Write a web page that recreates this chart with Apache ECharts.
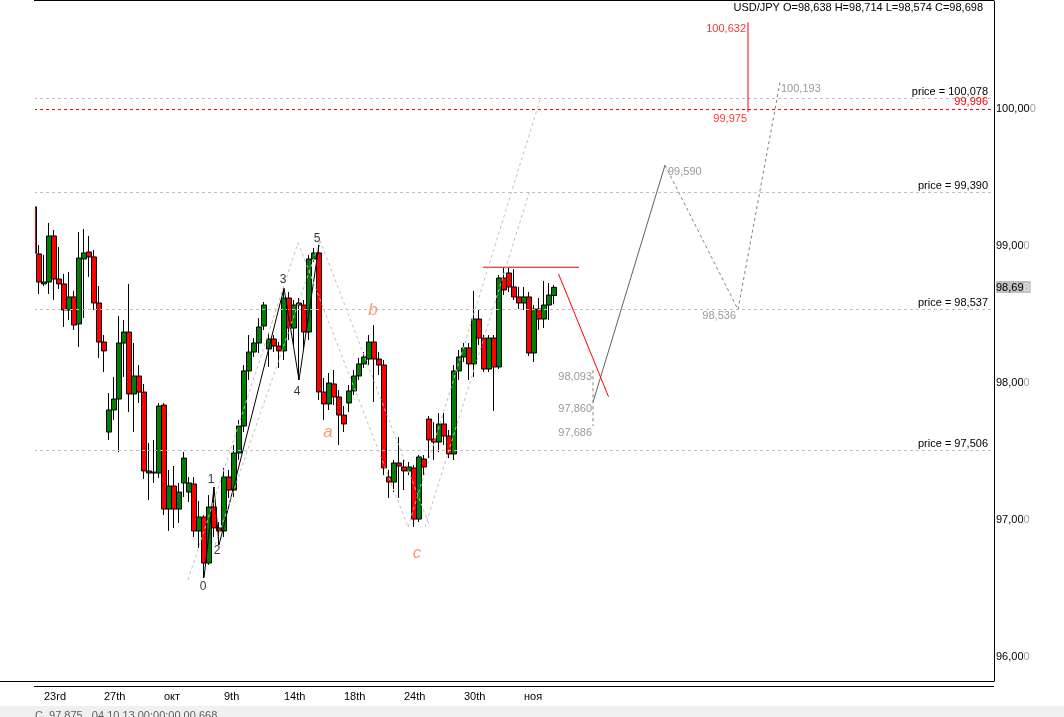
<!DOCTYPE html>
<html><head><meta charset="utf-8">
<script src="https://cdn.jsdelivr.net/npm/echarts@6/dist/echarts.min.js"></script>
<style>html,body{margin:0;padding:0;background:#fff;}#c{width:1064px;height:717px;}</style>
</head><body><div id="c"></div>
<script>
// ---- data ----
const xTickLabels = ['23rd','27th','окт','9th','14th','18th','24th','30th','ноя'];
const opens = [
99.285,98.942,98.723,98.737,99.073,98.759,98.723,98.533,98.628,98.431,
98.905,98.956,98.920,98.584,98.299,97.642,97.803,97.883,98.292,98.372,
97.920,98.051,97.934,97.343,97.350,97.343,97.839,97.080,97.248,97.080,
97.270,97.204,97.263,96.920,97.022,96.686,97.095,96.942,96.920,97.314,
97.219,97.489,97.686,98.088,98.226,98.292,98.416,98.248,98.321,98.270,
98.234,98.620,98.401,98.584,98.569,98.372,98.905,98.949,97.934,97.847,
97.993,97.898,97.766,97.854,97.942,98.051,98.139,98.175,98.299,98.175,
98.131,97.314,97.277,97.416,97.387,97.358,97.380,97.007,97.445,97.737,
97.591,97.569,97.701,97.613,97.482,98.088,98.190,98.256,98.139,98.467,
98.328,98.102,98.328,98.117,98.766,98.803,98.701,98.628,98.584,98.628,
98.219,98.540,98.467,98.569,98.638];
const closes = [
98.949,98.737,98.737,99.073,98.759,98.723,98.533,98.628,98.423,98.912,
98.949,98.920,98.584,98.299,98.234,97.803,97.883,98.292,98.372,97.920,
98.051,97.934,97.358,97.358,97.343,97.832,97.080,97.248,97.080,97.204,
97.452,97.270,96.920,97.022,96.686,97.095,96.942,96.920,97.314,97.219,
97.489,97.686,98.088,98.226,98.292,98.409,98.569,98.321,98.270,98.234,
98.620,98.401,98.569,98.569,98.372,98.905,98.949,97.934,97.847,98.000,
97.898,97.766,97.701,97.942,98.051,98.139,98.190,98.299,98.175,98.131,
97.380,97.277,97.416,97.394,97.358,97.387,97.007,97.460,97.387,97.584,
97.569,97.701,97.613,97.482,98.088,98.190,98.256,98.139,98.467,98.328,
98.102,98.328,98.117,98.766,98.679,98.701,98.628,98.584,98.628,98.219,
98.540,98.467,98.569,98.642,98.698];
const lows = [
98.854,98.650,98.708,98.650,98.606,98.686,98.409,98.460,98.387,98.263,
98.474,98.774,98.533,98.183,98.080,97.584,97.730,97.496,98.044,97.788,
97.642,97.854,97.299,97.146,97.270,97.307,97.036,96.920,96.942,96.978,
97.168,97.131,96.876,96.796,96.577,96.672,96.876,96.818,96.876,97.161,
97.168,97.438,97.642,98.022,98.190,98.219,98.387,98.117,98.226,98.110,
98.168,98.314,98.277,98.022,98.241,98.314,98.883,97.876,97.730,97.803,
97.839,97.547,97.642,97.788,97.912,98.022,98.110,98.131,97.861,98.058,
97.328,97.161,97.204,97.161,97.219,97.328,96.949,96.985,97.328,97.452,
97.438,97.496,97.547,97.452,97.438,98.022,98.153,98.022,98.044,98.277,
98.080,98.080,97.796,98.102,98.642,98.664,98.606,98.540,98.533,98.197,
98.153,98.387,98.401,98.460,98.574];
const highs = [
99.290,99.007,98.934,99.168,99.117,98.993,98.796,98.810,98.672,99.102,
99.124,99.073,98.971,98.708,98.350,97.927,98.044,98.489,98.460,98.723,
98.292,98.131,97.993,97.562,97.584,97.854,97.854,97.365,97.394,97.270,
97.496,97.314,97.314,97.139,97.036,97.182,97.241,96.985,97.380,97.365,
97.547,97.730,98.131,98.350,98.328,98.474,98.591,98.365,98.350,98.299,
98.693,98.664,98.606,98.620,98.606,98.934,98.985,99.007,98.037,98.073,
98.095,97.949,97.832,97.985,98.095,98.183,98.226,98.350,98.423,98.226,
98.168,97.365,97.438,97.606,97.438,97.423,97.401,97.474,97.474,97.759,
97.715,97.781,97.781,97.657,98.131,98.241,98.292,98.292,98.672,98.533,
98.350,98.350,98.350,98.788,98.839,98.839,98.832,98.701,98.701,98.664,
98.569,98.620,98.745,98.730,98.714];
const priceLevels = [100.078, 99.390, 98.537, 97.506];
const redLevel = 99.996;
const yTicks = [96, 97, 98, 99, 100];
// wave pivots (bar index) : 0,1,2,3,4,5
const waveBars = [34, 36, 37, 50, 53, 57];
const waveKinds = ['L','H','L','H','L','H'];
// projection points [bar position, price]
const projSolid = [[111.8, 97.860], [126.2, 99.590]];
const projDashed = [[126.2, 99.590], [140.8, 98.536], [149.2, 100.193]];
const projVertical = [[111.8, 98.093], [111.8, 97.686]];
const redVertical = [[142.8, 100.632], [142.8, 99.975]];
const redTop = [[89.8, 98.845], [109, 98.845]];
const redDiag = [[104.9, 98.796], [114.9, 97.900]];
const fanLines = [
  [[30.8, 96.562], [52.8, 99.025]],
  [[36.2, 96.818], [57.2, 99.040]],
  [[52.8, 99.025], [74.8, 96.949]],
  [[57.2, 99.040], [79.2, 96.949]],
  [[74.8, 96.949], [101.2, 100.066]],
  [[78.2, 96.949], [99.2, 99.409]]
];
const waveText = [['0',33.8,96.511],['1',35.4,97.292],['2',36.6,96.774],['3',49.8,98.752],['4',52.6,97.934],['5',56.6,99.051]];
const abcText = [['a',58.8,97.642],['b',67.8,98.533],['c',76.6,96.759]];
const lastBar = {o:98.638,h:98.714,l:98.574,c:98.698};

// ---- build ----
const N = 193;
const fmt = (v, d) => v.toFixed(d).replace('.', ',');
const cats = Array.from({length: N}, (_, i) => {
  const k = (i - 2) / 12;
  return (Number.isInteger(k) && k >= 0 && k < xTickLabels.length) ? xTickLabels[k] : '';
});
const candles = opens.map((o, i) => [o, closes[i], lows[i], highs[i]]);
const wavePts = waveBars.map((b, j) => [b, waveKinds[j] === 'L' ? lows[b] : highs[b]]);
const FONT = 'Liberation Sans';
const yMin = 95.825, yMax = 100.788;

function lineSeries(data, color, type, width) {
  return {type: 'line', xAxisIndex: 1, yAxisIndex: 0, data: data, symbol: 'none', silent: true,
    lineStyle: {color: color, width: width || 1, type: type || 'solid'}, animation: false, z: 5};
}

const annot = [];
waveText.forEach(t => annot.push({value:[t[1], t[2]], label:{show:true, formatter:t[0], color:'#000', fontFamily:FONT, fontSize:12, position:'inside'}}));
abcText.forEach(t => annot.push({value:[t[1], t[2]], label:{show:true, formatter:t[0], color:'#ff7f50', fontFamily:FONT, fontSize:17, fontStyle:'italic', position:'inside'}}));
const lab = (val, x, color, align, dx) => ({value:[x, val], label:{show:true, formatter: fmt(val, 3), color: color,
  fontFamily: FONT, fontSize: 11, position: 'inside', align: align, verticalAlign: 'top', offset:[dx, 1]}});
annot.push(lab(99.590, 126.2, '#808080', 'left', 3));
annot.push(lab(98.536, 140.8, '#808080', 'right', -2));
annot.push(lab(100.193, 149.2, '#808080', 'left', 1));
annot.push(lab(98.093, 111.8, '#808080', 'right', -1));
annot.push(lab(97.860, 111.8, '#808080', 'right', -1));
annot.push(lab(97.686, 111.8, '#808080', 'right', -1));
annot.push(lab(100.632, 142.8, '#ff0000', 'right', -2));
annot.push(lab(99.975, 142.8, '#ff0000', 'right', -1));

const markData = priceLevels.map(p => ({yAxis: p, lineStyle:{color:'#c0c0c0', type:[3,3], width:1},
  label:{show:true, position:'insideEndTop', formatter:'price = ' + fmt(p,3), color:'#000', fontFamily:FONT, fontSize:11, distance:[6,1]}}));
markData.push({yAxis: redLevel, lineStyle:{color:'#ff0000', type:[3,3], width:1},
  label:{show:true, position:'insideEndTop', formatter: fmt(redLevel,3), color:'#ff0000', fontFamily:FONT, fontSize:11, distance:[6,1]}});
// current price tag on the axis
const cStr = fmt(lastBar.c, 3);
markData.push({yAxis: lastBar.c, lineStyle:{color:'rgba(0,0,0,0)', width:0},
  label:{show:true, position:'end', distance:2, formatter: '{a|' + cStr.slice(0,-1) + '}{b|' + cStr.slice(-1) + '}',
    backgroundColor:'#c0c0c0', padding:[1,1,0,0],
    rich:{a:{color:'#000', fontFamily:FONT, fontSize:11}, b:{color:'#e8e8e8', fontFamily:FONT, fontSize:11}}}});

const series = [
  {type:'candlestick', xAxisIndex:0, yAxisIndex:0, data: candles, barWidth: 6, clip: true,
   itemStyle:{color:'#008000', color0:'#ff0000', borderColor:'#000', borderColor0:'#000', borderWidth:1},
   markLine:{symbol:'none', silent:true, animation:false, data: markData}, animation:false, z:3},
  lineSeries(wavePts, '#000', 'solid'),
  lineSeries(projSolid, '#606060', 'solid'),
  lineSeries(projDashed, '#808080', [3,3]),
  lineSeries(projVertical, '#808080', [3,3]),
  lineSeries(redVertical, '#ff0000', 'solid'),
  lineSeries(redTop, '#e00000', 'solid'),
  lineSeries(redDiag, '#ff0000', 'solid'),
  {type:'scatter', xAxisIndex:1, yAxisIndex:0, data: annot, symbolSize: 0, silent:true, animation:false, z:10}
].concat(fanLines.map(f => lineSeries(f, '#c0c0c0', [3,3])));

const chart = echarts.init(document.getElementById('c'), null, {renderer:'canvas'});
chart.setOption({
  animation: false,
  backgroundColor: '#fff',
  title: {text: 'USD/JPY O=' + fmt(lastBar.o,3) + ' H=' + fmt(lastBar.h,3) + ' L=' + fmt(lastBar.l,3) + ' C=' + fmt(lastBar.c,3),
    right: 81, top: 2, padding: 0, textStyle:{fontSize:11, fontWeight:'normal', color:'#000', fontFamily:FONT}},
  grid: {left: 34, right: 70, top: 1, height: 680, containLabel: false},
  xAxis: [
    {type:'category', data: cats, boundaryGap: false, axisLine:{onZero:false, lineStyle:{color:'#000'}}, axisTick:{show:false},
     splitLine:{show:false},
     axisLabel:{interval: (i, v) => v !== '', align:'left', color:'#000', fontFamily:FONT, fontSize:11, margin:10}},
    {type:'value', min: 0, max: N - 1, show: false, position:'top',
     axisLine:{show:false}, axisTick:{show:false}, axisLabel:{show:false}, splitLine:{show:false}}
  ],
  yAxis: [
    {type:'value', position:'right', min: yMin, max: yMax, splitLine:{show:false},
     axisLine:{show:true, onZero:false, lineStyle:{color:'#000'}}, axisTick:{show:false},
     axisLabel:{customValues: yTicks, margin: 2, fontFamily: FONT, fontSize: 11,
       formatter: v => '{a|' + fmt(v,2) + '}{b|0}',
       rich:{a:{color:'#000', fontFamily:FONT, fontSize:11}, b:{color:'#a0a0a0', fontFamily:FONT, fontSize:11}}}}
  ],
  series: series,
  graphic: [
    {type:'rect', shape:{x:0, y:1, width:35, height:679}, style:{fill:'#fff'}, z:100, silent:true},
    {type:'line', shape:{x1:34, y1:0.5, x2:994, y2:0.5}, style:{stroke:'#000', lineWidth:1}, z:101, silent:true},
    {type:'line', shape:{x1:0, y1:681.5, x2:34, y2:681.5}, style:{stroke:'#000', lineWidth:1}, z:101, silent:true},
    {type:'line', shape:{x1:34, y1:686.5, x2:994, y2:686.5}, style:{stroke:'#000', lineWidth:1}, silent:true},
    {type:'rect', shape:{x:0, y:706, width:1064, height:11}, style:{fill:'#f0f0f0'}, silent:true},
    {type:'text', x:35, y:710, style:{text:'С  97,875   04.10.13 00:00:00 00,668', fill:'#606060', font:'11px ' + FONT}, silent:true}
  ]
});
</script></body></html>
